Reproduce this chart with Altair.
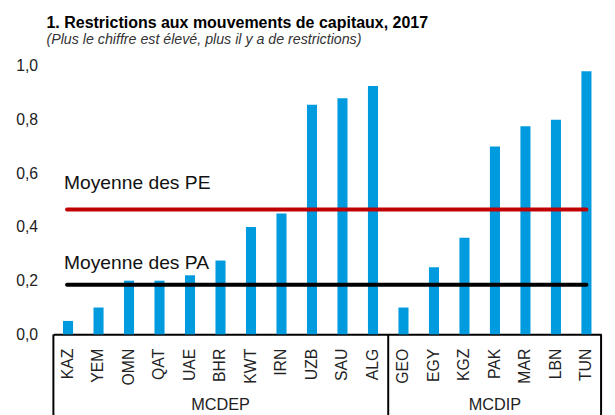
import altair as alt
import pandas as pd

# ---- data ----
countries = ["KAZ", "YEM", "OMN", "QAT", "UAE", "BHR", "KWT", "IRN", "UZB", "SAU", "ALG",
             "GEO", "EGY", "KGZ", "PAK", "MAR", "LBN", "TUN"]
values = [0.05, 0.10, 0.20, 0.20, 0.22, 0.275, 0.40, 0.45, 0.855, 0.88, 0.925,
          0.10, 0.25, 0.36, 0.70, 0.775, 0.80, 0.98]
groups = ["MCDEP"] * 11 + ["MCDIP"] * 7
group_names = ["MCDEP", "MCDIP"]
group_centers = ["BHR", "PAK"]      # middle country of each group
group_last = ["ALG"]                # last country before the group separator
mean_labels = ["Moyenne des PE", "Moyenne des PA"]
mean_values = [0.465, 0.185]
mean_colors = ["#C00000", "#000000"]
y_ticks = [0.0, 0.2, 0.4, 0.6, 0.8, 1.0]

W, H = 555, 272
FONT = "Liberation Sans"

df = pd.DataFrame({"country": countries, "value": values, "group": groups})
means = pd.DataFrame({"label": mean_labels, "value": mean_values,
                      "start": countries[0], "end": countries[-1]})
gdf = pd.DataFrame({"group": group_names, "center": group_centers})
sep = pd.DataFrame({"last": group_last})

xscale = alt.Scale(domain=countries, paddingInner=0.67, paddingOuter=0.315)
yscale = alt.Scale(domain=[0, 1])

bars = alt.Chart(df).mark_bar(color="#009BDE").encode(
    x=alt.X("country:N", scale=xscale, sort=countries,
            axis=alt.Axis(title=None, labelAngle=-90, labelFontSize=16, labelColor="#222222",
                          labelFont=FONT, labelPadding=14, ticks=False, tickSize=0,
                          domainColor="#000000", domainWidth=2)),
    y=alt.Y("value:Q", scale=yscale,
            axis=alt.Axis(title=None, values=y_ticks,
                          labelExpr="replace(format(datum.value, '.1f'), '.', ',')",
                          domain=False, ticks=False, tickSize=0, grid=False,
                          labelFontSize=16, labelFont=FONT, labelColor="#222222",
                          labelPadding=16)),
)

rules = alt.Chart(means).mark_rule(strokeWidth=4, strokeCap="round").encode(
    x=alt.X("start:N", scale=xscale, bandPosition=0.4),
    x2=alt.X2("end:N", bandPosition=0.5),
    y=alt.Y("value:Q", scale=yscale),
    color=alt.Color("label:N", scale=alt.Scale(domain=mean_labels, range=mean_colors), legend=None),
)

text_dy = {"Moyenne des PE": -21, "Moyenne des PA": -16}
mean_texts = []
for lab in mean_labels:
    mean_texts.append(
        alt.Chart(means).transform_filter(alt.datum.label == lab)
        .mark_text(align="left", baseline="alphabetic", dy=text_dy[lab],
                   fontSize=19.5, font=FONT, color="#111111")
        .encode(x=alt.X("start:N", scale=xscale, bandPosition=0.1),
                y=alt.Y("value:Q", scale=yscale),
                text="label:N")
    )

sep_rule = alt.Chart(sep).mark_rule(strokeWidth=2, color="#000000", xOffset=15.45).encode(
    x=alt.X("last:N", scale=xscale, bandPosition=0.5),
    y=alt.value(H), y2=alt.value(H + 90),
)
edge_left = alt.Chart(sep).mark_rule(strokeWidth=2, color="#000000").encode(
    x=alt.value(0), y=alt.value(H), y2=alt.value(H + 90))
edge_right = alt.Chart(sep).mark_rule(strokeWidth=2, color="#000000").encode(
    x=alt.value(W), y=alt.value(H), y2=alt.value(H + 90))

group_text = alt.Chart(gdf).mark_text(baseline="alphabetic", fontSize=16.5, font=FONT,
                                      color="#222222").encode(
    x=alt.X("center:N", scale=xscale, bandPosition=0.5),
    y=alt.value(H + 77),
    text="group:N",
)

chart = alt.layer(bars, rules, *mean_texts, sep_rule, edge_left, edge_right, group_text).properties(
    width=W, height=H,
    autosize="none",
    padding={"left": 46, "top": 56, "right": 6, "bottom": 79},
    title=alt.TitleParams(
        text="1. Restrictions aux mouvements de capitaux, 2017",
        subtitle="(Plus le chiffre est élevé, plus il y a de restrictions)",
        anchor="start", frame="group", dx=-7, offset=12,
        font=FONT, fontSize=16.2, fontWeight="bold", color="#000000",
        subtitleFont=FONT, subtitleFontSize=14.4, subtitleFontStyle="italic",
        subtitleColor="#333333", subtitlePadding=2,
    ),
).configure_view(stroke=None)

chart.save("out.html", embed_options={"renderer": "svg", "actions": False})
